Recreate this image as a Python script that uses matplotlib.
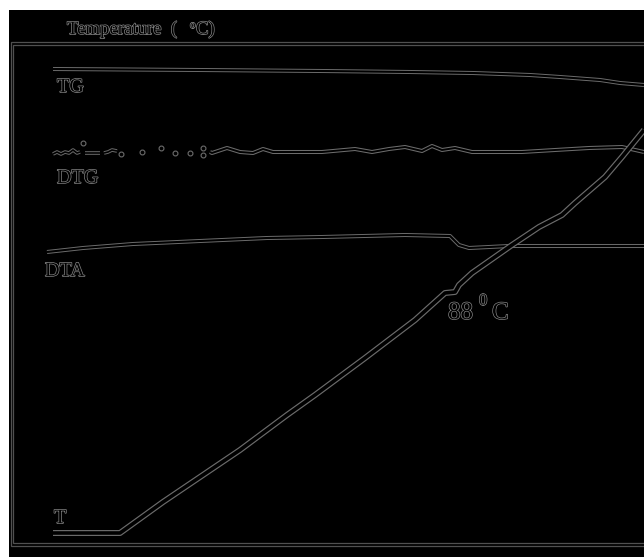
import matplotlib
matplotlib.use("Agg")
import matplotlib.pyplot as plt
import matplotlib.patheffects as pe
import numpy as np

tg_x = [53, 200, 322, 410, 473, 530, 560, 600, 620, 644]
tg_y = [488, 487, 486, 485, 484, 482, 480, 477, 474, 472]

dtg_x = [210, 212, 227, 240, 253, 263, 273, 322, 355, 372, 389, 405, 422, 432, 442,
         455, 472, 522, 555, 589, 622, 644]
dtg_y = [405, 404, 409, 405, 404, 408, 405, 405, 408, 405, 408, 410, 406, 411, 407,
         409, 405, 405, 407, 409, 410, 405]

dtg_noise_x = [53, 57, 61, 65, 69, 73, 77, 80, np.nan, 85, 92, 100, np.nan,
               104, 108, 112, 117, np.nan]
dtg_noise_y = [403, 405, 403, 405, 404, 407, 404, 405, np.nan, 404, 404, 404, np.nan,
               404, 405, 407, 406, np.nan]
dtg_dots_x = [83, 121, 142, 161, 175, 190, 203, 203]
dtg_dots_y = [414, 403, 405, 409, 404, 404, 409, 402]

dta_x = [47, 83, 133, 200, 267, 322, 405, 450, 459, 469, 509, 589, 644]
dta_y = [305, 309, 313, 316, 319, 320, 322, 321, 312, 309, 311, 311, 311]

t_x = [53, 120, 163, 240, 287, 315, 365, 415, 445, 455, 459, 472, 502, 512,
       539, 562, 575, 605, 622, 644]
t_y = [24, 24, 55, 107, 142, 162, 199, 237, 264, 265, 272, 284, 305, 312,
       330, 342, 354, 380, 400, 427]

labels = ["TG", "DTG", "DTA", "T"]
label_x = [57, 57, 45, 54]
label_y = [465, 374, 281, 34]

title_text = "Temperature  ("
annot_text = "88"

LINE = "#6c6c6c"
TXT = "#858585"

fig = plt.figure(figsize=(6.44, 5.57), dpi=100, facecolor="white")
ax = fig.add_axes([9 / 644, 0, 635 / 644, 547 / 557], facecolor="black")
ax.set_xlim(9, 644)
ax.set_ylim(0, 547)
ax.axis("off")
ax.add_patch(plt.Rectangle((9, 0), 635, 547, facecolor="black", edgecolor="none", zorder=0))

# double frame
for (x0, y0, y1) in [(10.5, 11, 515.5), (13.3, 14, 512)]:
    ax.plot([700, x0, x0, 700], [y1, y1, y0, y0], color="#505050", lw=0.9, zorder=1,
            solid_joinstyle="miter")


def outline(x, y, w_out, w_in, z=3):
    ax.plot(x, y, color=LINE, lw=w_out, zorder=z, solid_capstyle="butt", solid_joinstyle="round")
    ax.plot(x, y, color="black", lw=w_in, zorder=z + 0.1, solid_capstyle="butt", solid_joinstyle="round")


outline(tg_x, tg_y, 2.9, 1.5)
outline(dtg_x, dtg_y, 2.9, 1.4)
outline(dtg_noise_x, dtg_noise_y, 2.6, 1.2)
ax.plot(dtg_dots_x, dtg_dots_y, "o", ms=3.5, mfc="black", mec=LINE, mew=0.8, ls="none", zorder=4)
outline(dta_x, dta_y, 2.9, 1.5)
outline(t_x, t_y, 4.3, 2.6, z=5)

fx = [pe.withStroke(linewidth=1.0, foreground=TXT)]
serif = "Liberation Serif"

for lab, lx, ly in zip(labels, label_x, label_y):
    ax.text(lx, ly, lab, family=serif, fontsize=14.5, color="black", path_effects=fx,
            ha="left", va="baseline", zorder=6)

# title
ax.text(67, 523, title_text, family=serif, fontsize=13.5, color="black", path_effects=fx,
        ha="left", va="baseline", zorder=6)
ax.text(190, 529, "o", family=serif, fontsize=8, color="black", path_effects=fx,
        ha="left", va="baseline", zorder=6)
ax.text(196, 523, "C)", family=serif, fontsize=13.5, color="black", path_effects=fx,
        ha="left", va="baseline", zorder=6)

# annotation 88 0C
ax.text(448, 238, annot_text, family=serif, fontsize=18, color="black", path_effects=fx,
        ha="left", va="baseline", zorder=6)
ax.text(479, 252, "0", family=serif, fontsize=12, color="black", path_effects=fx,
        ha="left", va="baseline", zorder=6)
ax.text(492, 238, "C", family=serif, fontsize=18, color="black", path_effects=fx,
        ha="left", va="baseline", zorder=6)

fig.savefig("out.png", dpi=100, facecolor="white")
